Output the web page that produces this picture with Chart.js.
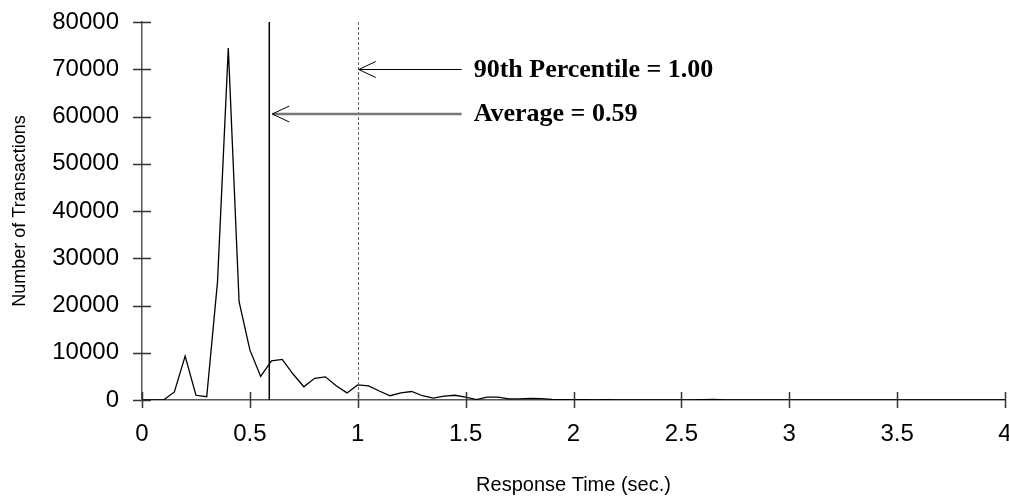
<!DOCTYPE html>
<html>
<head>
<meta charset="utf-8">
<script src="https://cdn.jsdelivr.net/npm/chart.js@4.4.1/dist/chart.umd.min.js"></script>
<style>
  html, body { margin: 0; padding: 0; background: #fff; }
  #wrap { width: 1009px; height: 500px; }
</style>
</head>
<body>
<div id="wrap"><canvas id="responseChart" width="1009" height="500"></canvas></div>
<script>
// response time histogram (sec.)
var responseTimes = [0, 0.05, 0.1, 0.15, 0.2, 0.25, 0.3, 0.35, 0.4, 0.45, 0.5, 0.55, 0.6, 0.65, 0.7, 0.75,
    0.8, 0.85, 0.9, 0.95, 1, 1.05, 1.1, 1.15, 1.2, 1.25, 1.3, 1.35, 1.4, 1.45, 1.5, 1.55, 1.6, 1.65, 1.7,
    1.75, 1.8, 1.85, 1.9, 1.95, 2, 2.05, 2.1, 2.15, 2.2, 2.25, 2.3, 2.35, 2.4, 2.45, 2.5, 2.55, 2.6, 2.65,
    2.7, 2.75, 2.8, 2.85, 2.9, 2.95, 3, 3.05, 3.1, 3.15, 3.2, 3.25, 3.3, 3.35, 3.4, 3.45, 3.5, 3.55, 3.6,
    3.65, 3.7, 3.75, 3.8, 3.85, 3.9, 3.95, 4];

var transactionCounts = [0, 0, 0, 1700, 9300, 1000, 700,
    25000, 74500, 20800, 10600, 5000, 8300, 8600,
    5500, 2800, 4600, 4900, 3000, 1500, 3200,
    3000, 1900, 900, 1500, 1800, 900, 400,
    800, 1000, 600, 100, 600, 600, 250,
    250, 350, 300, 150, 100, 50, 60,
    40, 50, 30, 40, 30, 20, 30,
    20, 20, 10, 60, 150, 40, 20,
    10, 10, 20, 10, 10, 0, 10,
    0, 10, 0, 0, 10, 0, 0,
    0, 0, 10, 0, 0, 0, 0,
    0, 0, 0, 0];

var xTickValues = [0, 0.5, 1, 1.5, 2, 2.5, 3, 3.5, 4];
var yTickValues = [0, 10000, 20000, 30000, 40000, 50000, 60000, 70000, 80000];

var averageTime = 0.59;
var percentileTime = 1.00;
var averageLabel = 'Average = 0.59';
var percentileLabel = '90th Percentile = 1.00';

// vertical markers, arrows, and tick marks crossing the axes
var markerPlugin = {
    id: 'markers',
    afterDatasetsDraw: function (chart) {
        var ctx = chart.ctx;
        var x = chart.scales.x;
        var y = chart.scales.y;
        var top = y.getPixelForValue(80000);
        var bottom = y.getPixelForValue(0);
        var axisX = x.getPixelForValue(0);

        ctx.save();

        // tick marks
        ctx.strokeStyle = '#333';
        ctx.lineWidth = 1.5;
        yTickValues.forEach(function (v) {
            var py = Math.round(y.getPixelForValue(v)) + 0.5;
            ctx.beginPath();
            ctx.moveTo(axisX - 9, py);
            ctx.lineTo(axisX + 9, py);
            ctx.stroke();
        });
        xTickValues.forEach(function (v) {
            var px = Math.round(x.getPixelForValue(v)) + 0.5;
            ctx.beginPath();
            ctx.moveTo(px, bottom - 8);
            ctx.lineTo(px, bottom + 8);
            ctx.stroke();
        });

        // average line
        var avgX = x.getPixelForValue(averageTime);
        ctx.strokeStyle = '#000';
        ctx.lineWidth = 1.5;
        ctx.beginPath();
        ctx.moveTo(avgX, top);
        ctx.lineTo(avgX, bottom);
        ctx.stroke();

        // percentile line
        var pctX = x.getPixelForValue(percentileTime);
        ctx.strokeStyle = '#666';
        ctx.lineWidth = 1;
        ctx.setLineDash([3, 2]);
        ctx.beginPath();
        ctx.moveTo(Math.round(pctX) + 0.5, top);
        ctx.lineTo(Math.round(pctX) + 0.5, bottom);
        ctx.stroke();
        ctx.setLineDash([]);

        var tailX = x.getPixelForValue(1.5) - 4;
        var textX = tailX + 12;

        function arrow(tipX, py, color, width) {
            ctx.strokeStyle = color;
            ctx.lineWidth = width;
            ctx.beginPath();
            ctx.moveTo(tipX, py);
            ctx.lineTo(tailX, py);
            ctx.stroke();
            ctx.strokeStyle = '#000';
            ctx.lineWidth = 1;
            ctx.beginPath();
            ctx.moveTo(tipX + 17, py - 8);
            ctx.lineTo(tipX, py);
            ctx.lineTo(tipX + 17, py + 8);
            ctx.stroke();
        }

        var pctY = Math.round(y.getPixelForValue(70000)) + 0.5;
        var avgY = Math.round(y.getPixelForValue(60600));
        arrow(pctX + 1, pctY, '#000', 1);
        arrow(avgX + 3, avgY, '#777', 2.5);

        ctx.fillStyle = '#000';
        ctx.font = 'bold 26px "Liberation Serif", "Times New Roman", serif';
        ctx.textAlign = 'left';
        ctx.textBaseline = 'alphabetic';
        ctx.fillText(percentileLabel, textX, pctY + 7);
        ctx.fillText(averageLabel, textX, avgY + 7);

        ctx.restore();
    }
};

var ctx = document.getElementById('responseChart');

new Chart(ctx, {
    type: 'line',
    data: {
        datasets: [{
            label: 'Transactions',
            data: responseTimes.map(function (t, i) {
                return { x: t, y: transactionCounts[i] };
            }),
            borderColor: '#000',
            borderWidth: 1.3,
            pointRadius: 0,
            tension: 0,
            fill: false
        }]
    },
    options: {
        responsive: false,
        animation: false,
        devicePixelRatio: 1,
        layout: { padding: { top: 22, right: 4, left: 0, bottom: 0 } },
        plugins: {
            legend: { display: false },
            tooltip: { enabled: false }
        },
        scales: {
            x: {
                type: 'linear',
                min: 0,
                max: 4,
                afterBuildTicks: function (scale) {
                    scale.ticks = xTickValues.map(function (v) { return { value: v }; });
                },
                afterFit: function (scale) {
                    scale.height = 100;
                    scale.paddingLeft = 0;
                    scale.paddingRight = 0;
                },
                grid: { display: false, drawTicks: false },
                border: { display: true, color: '#555', width: 1.5 },
                ticks: {
                    padding: 20,
                    maxRotation: 0,
                    color: '#000',
                    font: { family: '"Liberation Sans", Arial, sans-serif', size: 24 },
                    callback: function (v) { return String(v); }
                },
                title: {
                    display: true,
                    text: 'Response Time (sec.)',
                    color: '#000',
                    padding: { top: 0, bottom: 3 },
                    font: { family: '"Liberation Sans", Arial, sans-serif', size: 20 }
                }
            },
            y: {
                min: 0,
                max: 80000,
                afterBuildTicks: function (scale) {
                    scale.ticks = yTickValues.map(function (v) { return { value: v }; });
                },
                afterFit: function (scale) {
                    scale.width = 142;
                    scale.paddingTop = 0;
                    scale.paddingBottom = 0;
                },
                grid: { display: false, drawTicks: false },
                border: { display: true, color: '#555', width: 1.5 },
                ticks: {
                    padding: 23,
                    color: '#000',
                    font: { family: '"Liberation Sans", Arial, sans-serif', size: 24 },
                    callback: function (v) { return String(v); }
                },
                title: {
                    display: true,
                    text: 'Number of Transactions',
                    color: '#000',
                    padding: { top: 9, bottom: 0 },
                    font: { family: '"Liberation Sans", Arial, sans-serif', size: 18 }
                }
            }
        }
    },
    plugins: [markerPlugin]
});
</script>
</body>
</html>
